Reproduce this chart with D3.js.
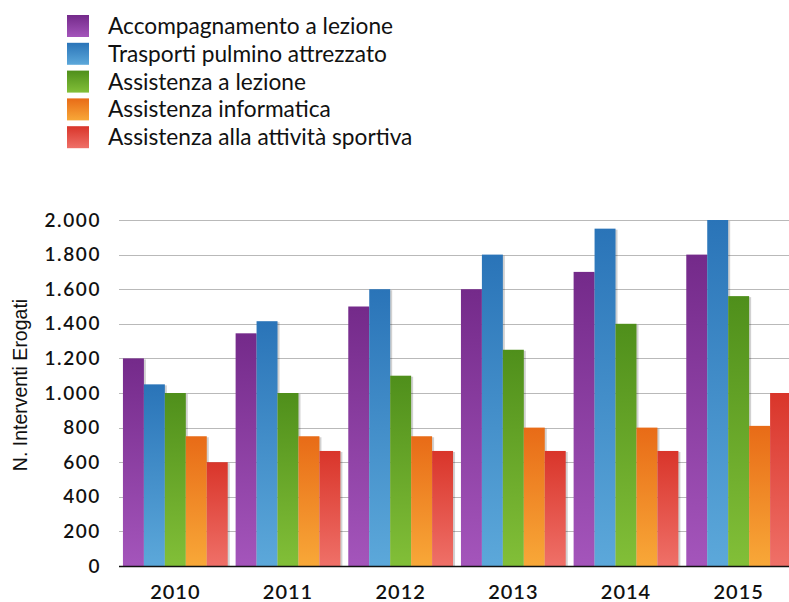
<!DOCTYPE html>
<html>
<head>
<meta charset="utf-8">
<script src="https://cdn.jsdelivr.net/npm/d3@7"></script>
<style>
  html, body { margin: 0; padding: 0; background: #fff; }
  svg { display: block; }
</style>
</head>
<body>
<svg id="chart" width="789" height="602"></svg>
<script>
// ---- Data ----
const years = ["2010", "2011", "2012", "2013", "2014", "2015"];
const seriesNames = [
  "Accompagnamento a lezione",
  "Trasporti pulmino attrezzato",
  "Assistenza a lezione",
  "Assistenza informatica",
  "Assistenza alla attività sportiva"
];
const accompagnamento = [1200, 1345, 1500, 1600, 1700, 1800];
const trasporti       = [1050, 1415, 1600, 1800, 1950, 2000];
const assistenzaLez   = [1000, 1000, 1100, 1250, 1400, 1560];
const informatica     = [750, 750, 750, 800, 800, 810];
const sportiva        = [600, 665, 665, 665, 665, 1000];
const yTicks = [0, 200, 400, 600, 800, 1000, 1200, 1400, 1600, 1800, 2000];
const yLabel = "N. Interventi Erogati";

const seriesValues = [accompagnamento, trasporti, assistenzaLez, informatica, sportiva];
// gradient colours: [top, bottom]
const colors = [
  ["#742a8a", "#a455bb"],
  ["#2a74b8", "#5ca8da"],
  ["#4f8f1b", "#82bf38"],
  ["#e86b17", "#f8a838"],
  ["#d9352a", "#ef7068"]
];

const svg = d3.select("#chart");
const defs = svg.append("defs");
colors.forEach((c, i) => {
  const g = defs.append("linearGradient").attr("id", "grad" + i)
    .attr("x1", 0).attr("y1", 0).attr("x2", 0).attr("y2", 1);
  g.append("stop").attr("offset", "0%").attr("stop-color", c[0]);
  g.append("stop").attr("offset", "100%").attr("stop-color", c[1]);
});

const plotLeft = 119, plotRight = 795, plotTop = 220, plotBottom = 566;

const x0 = d3.scaleBand().domain(years).range([plotLeft, plotRight])
  .paddingInner(0.07).paddingOuter(0.035);
const x1 = d3.scaleBand().domain(d3.range(seriesNames.length))
  .range([0, x0.bandwidth()]);
const y = d3.scaleLinear().domain([0, 2000]).range([plotBottom, plotTop]);

// gridlines
const grid = svg.append("g");
grid.selectAll("line").data(yTicks.filter(d => d > 0)).join("line")
  .attr("x1", plotLeft).attr("x2", 789)
  .attr("y1", d => Math.round(y(d)) + 0.5).attr("y2", d => Math.round(y(d)) + 0.5)
  .attr("stroke", "#b9b9b9").attr("stroke-width", 1.2);

// y axis labels
const yAxis = d3.axisLeft(y).tickValues(yTicks)
  .tickFormat(d => d3.format(",")(d).replace(/,/g, "."))
  .tickSize(0).tickPadding(18);
const yG = svg.append("g").attr("transform", `translate(${plotLeft},0)`).call(yAxis);
yG.select(".domain").remove();
yG.selectAll("text").attr("font-family", "Lato, 'Open Sans', sans-serif")
  .attr("font-size", 19).attr("font-weight", 600).attr("fill", "#111")
  .attr("letter-spacing", 1.6);

// bars
const groups = svg.append("g").selectAll("g").data(years).join("g")
  .attr("transform", d => `translate(${x0(d)},0)`);
groups.each(function(year, yi) {
  const g = d3.select(this);
  const vals = seriesValues.map((s, si) => ({ si, v: s[yi] }));
  g.selectAll("rect.shadow").data(vals).join("rect").attr("class", "shadow")
    .attr("x", d => x1(d.si) + 2).attr("width", x1.bandwidth())
    .attr("y", d => y(d.v) + 1).attr("height", d => plotBottom - y(d.v) - 1)
    .attr("fill", "rgba(0,0,0,0.18)");
  g.selectAll("rect.bar").data(vals).join("rect").attr("class", "bar")
    .attr("x", d => x1(d.si)).attr("width", x1.bandwidth())
    .attr("y", d => y(d.v)).attr("height", d => plotBottom - y(d.v))
    .attr("fill", d => `url(#grad${d.si})`);
});

// baseline
svg.append("line").attr("x1", plotLeft).attr("x2", 789)
  .attr("y1", plotBottom + 0.5).attr("y2", plotBottom + 0.5)
  .attr("stroke", "#111").attr("stroke-width", 1.5);

// x axis labels
const xAxis = d3.axisBottom(x0).tickSize(0).tickPadding(19);
const xG = svg.append("g").attr("transform", `translate(0,${plotBottom})`).call(xAxis);
xG.select(".domain").remove();
xG.selectAll("text").attr("font-family", "Lato, 'Open Sans', sans-serif")
  .attr("font-size", 20).attr("font-weight", 600).attr("fill", "#111")
  .attr("letter-spacing", 1);

// y label
svg.append("text")
  .attr("transform", `translate(27,385) rotate(-90)`)
  .attr("text-anchor", "middle")
  .attr("font-family", "'Liberation Sans', Arial, sans-serif")
  .attr("font-size", 19.5).attr("fill", "#111")
  .text(yLabel);

// legend
const legend = svg.append("g").attr("transform", "translate(67,15)");
const li = legend.selectAll("g").data(seriesNames).join("g")
  .attr("transform", (d, i) => `translate(0,${i * 27.8})`);
li.append("rect").attr("width", 22).attr("height", 22)
  .attr("fill", (d, i) => `url(#grad${i})`);
li.append("text").attr("x", 41).attr("y", 19)
  .attr("font-family", "Lato, 'Open Sans', sans-serif")
  .attr("font-size", 22.7).attr("fill", "#111")
  .text(d => d);
</script>
</body>
</html>
